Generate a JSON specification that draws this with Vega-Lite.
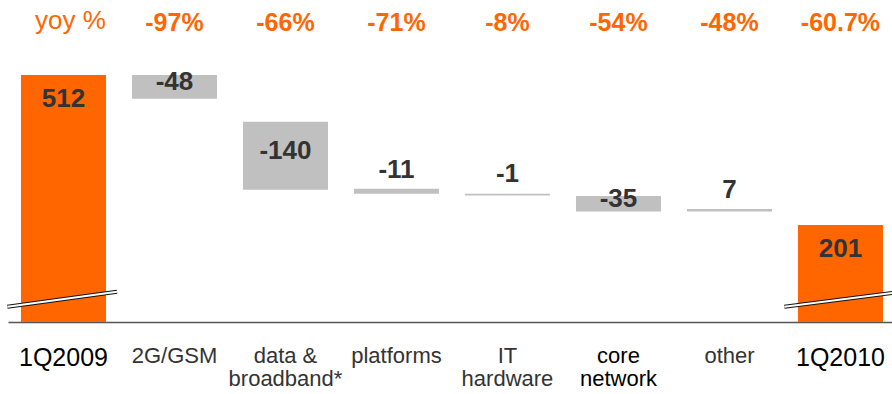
{
  "$schema": "https://vega.github.io/schema/vega-lite/v6.json",
  "autosize": "none",
  "width": 884,
  "height": 322,
  "padding": {"left": 8, "top": 0, "right": 0, "bottom": 72},
  "background": "white",
  "config": {"view": {"stroke": null}, "font": "Liberation Sans"},
  "datasets": {
    "bars": [
      {"cat": "1Q2009", "lo": 0, "hi": 512, "label": "512", "yoy": "yoy %", "kind": "total"},
      {"cat": "2G/GSM", "lo": 463, "hi": 512, "label": "-48", "yoy": "-97%", "kind": "step"},
      {"cat": "data &|broadband*", "lo": 274, "hi": 415, "label": "-140", "yoy": "-66%", "kind": "step"},
      {"cat": "platforms", "lo": 266, "hi": 276, "label": "-11", "yoy": "-71%", "kind": "step"},
      {"cat": "IT|hardware", "lo": 262, "hi": 266, "label": "-1", "yoy": "-8%", "kind": "step"},
      {"cat": "core|network", "lo": 229, "hi": 261, "label": "-35", "yoy": "-54%", "kind": "step"},
      {"cat": "other", "lo": 229, "hi": 234, "label": "7", "yoy": "-48%", "kind": "step"},
      {"cat": "1Q2010", "lo": 0, "hi": 201, "label": "201", "yoy": "-60.7%", "kind": "total"}
    ],
    "breaks": [
      {"cat": "1Q2009", "b1": 31.7, "b2": 62.8},
      {"cat": "1Q2010", "b1": 31.7, "b2": 60.7}
    ]
  },
  "encoding": {
    "x": {
      "field": "cat", "type": "nominal", "sort": null,
      "scale": {"paddingInner": 0.234, "paddingOuter": 0.099, "align": 0.59},
      "axis": {
        "title": null, "ticks": false, "domainColor": "#555", "domainWidth": 1.5,
        "labelAngle": 0, "labelPadding": 23, "labelBaseline": "top", "labelLineHeight": 23,
        "labelExpr": "split(datum.label, '|')",
        "labelFontSize": {"condition": {"test": "indexof(datum.label,'1Q')==0", "value": 25}, "value": 22},
        "labelColor": {"condition": {"test": "indexof(datum.label,'1Q')==0 || indexof(datum.label,'core')==0", "value": "#000"}, "value": "#333"},
        "labelOverlap": false, "labelLimit": 200
      }
    }
  },
  "layer": [
    {
      "data": {"name": "bars"},
      "mark": {"type": "bar", "width": {"band": 1}},
      "encoding": {
        "y": {"field": "lo", "type": "quantitative", "scale": {"domain": [0, 667.5], "nice": false}, "axis": null},
        "y2": {"field": "hi"},
        "color": {"field": "kind", "type": "nominal", "scale": {"domain": ["total", "step"], "range": ["#FF6600", "#C0C0C0"]}, "legend": null}
      }
    },
    {
      "data": {"name": "breaks"},
      "mark": {"type": "rule", "color": "#111", "strokeWidth": 4},
      "encoding": {
        "x": {"field": "cat", "type": "nominal", "sort": null, "bandPosition": -0.16},
        "x2": {"field": "cat", "bandPosition": 1.13},
        "y": {"field": "b1", "type": "quantitative"},
        "y2": {"field": "b2"}
      }
    },
    {
      "data": {"name": "breaks"},
      "mark": {"type": "rule", "color": "white", "strokeWidth": 2},
      "encoding": {
        "x": {"field": "cat", "type": "nominal", "sort": null, "bandPosition": -0.16},
        "x2": {"field": "cat", "bandPosition": 1.13},
        "y": {"field": "b1", "type": "quantitative"},
        "y2": {"field": "b2"}
      }
    },
    {
      "data": {"name": "bars"},
      "transform": [
        {"calculate": "datum.kind == 'total' ? datum.hi - 50 : (datum.hi - datum.lo >= 30 ? (datum.hi + datum.lo) / 2 + 10 : datum.hi + 40)", "as": "ly"}
      ],
      "mark": {"type": "text", "fontSize": 26, "fontWeight": "bold", "color": "#333", "baseline": "middle"},
      "encoding": {
        "y": {"field": "ly", "type": "quantitative"},
        "text": {"field": "label"}
      }
    },
    {
      "data": {"name": "bars"},
      "transform": [{"filter": "datum.kind == 'step' || datum.cat == '1Q2010'"}],
      "mark": {"type": "text", "fontSize": 25, "fontWeight": "bold", "color": "#FF6600", "baseline": "middle"},
      "encoding": {
        "y": {"datum": 620, "type": "quantitative"},
        "text": {"field": "yoy"}
      }
    },
    {
      "data": {"name": "bars"},
      "transform": [{"filter": "datum.cat == '1Q2009'"}],
      "mark": {"type": "text", "fontSize": 26, "fontWeight": "normal", "color": "#FF6600", "baseline": "middle", "dx": 7},
      "encoding": {
        "y": {"datum": 624, "type": "quantitative"},
        "text": {"field": "yoy"}
      }
    }
  ]
}
